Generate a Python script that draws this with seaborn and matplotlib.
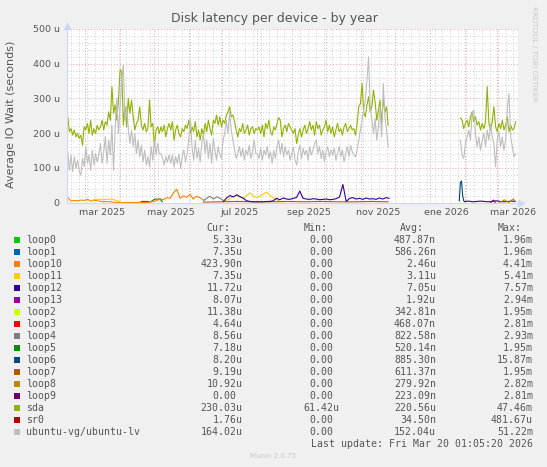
import numpy as np
import pandas as pd
import matplotlib
matplotlib.use('Agg')
import matplotlib.pyplot as plt
from matplotlib.patches import Rectangle
from matplotlib.ticker import MultipleLocator
import seaborn as sns

sns.set_style('white')
plt.rcParams['font.family'] = ['DejaVu Sans']

# ---- data (values in microseconds) ----
sda_a = [247, 204, 213, 194, 209, 189, 199, 185, 194, 165, 218, 209, 228, 199, 237, 194, 213, 199, 223, 209,
         218, 237, 209, 233, 223, 261, 237, 334, 257, 281, 237, 295, 382, 377, 223, 276, 218, 300, 257, 295,
         247, 209, 228, 237, 276, 223, 209, 228, 204, 213, 295, 218, 228, 161, 209, 218, 199,
         218, 204, 223, 189, 213, 228, 209, 233, 180, 209, 223, 199, 189, 213, 204, 223, 213, 237, 199, 218,
         204, 233, 189, 209, 180, 213, 194, 228, 204, 237, 213, 194, 237, 228, 252, 223, 247, 218, 237, 228,
         252, 261, 276, 247, 252, 233, 209, 189, 213, 204, 228, 199, 209, 223, 194, 213, 218, 199, 213,
         209, 218, 199, 223, 189, 228, 213, 237, 204, 194, 218, 209, 228, 245, 237, 189, 213, 223, 204, 228,
         218, 209, 199, 213, 170, 194, 213, 189, 209, 223, 199, 213, 233, 209, 223, 194, 233, 213, 223, 194,
         209, 218, 237, 204, 223, 199, 218, 189, 209, 228, 204, 213, 194, 218, 228, 204, 213, 223, 209, 213,
         194, 228, 276, 285, 343, 261, 247, 281, 305, 261, 276, 324, 290, 237, 266, 295, 228, 300, 261, 276, 223]
lv_a = [146, 93, 137, 89, 132, 98, 122, 89, 79, 127, 103, 161, 113, 137, 93, 151, 108, 141, 117, 137,
        170, 113, 146, 190, 113, 180, 137, 223, 93, 213, 300, 199, 281, 353, 396, 237, 276, 213, 170, 209,
        161, 199, 141, 180, 132, 165, 117, 151, 108, 132, 103, 161, 122, 180, 137, 170, 141,
        141, 127, 108, 132, 117, 137, 113, 137, 103, 132, 113, 141, 98, 132, 151, 117, 141, 180, 244, 161,
        122, 180, 127, 156, 117, 170, 199, 141, 180, 127, 170, 113, 185, 151, 122, 161, 137, 127, 180, 199,
        237, 199, 261, 209, 180, 151, 127, 141, 161, 132, 156, 122, 151, 137, 165, 127, 146, 180, 141,
        141, 127, 156, 122, 151, 137, 161, 127, 146, 113, 151, 127, 161, 180, 141, 170, 132, 161, 137, 151,
        122, 141, 161, 122, 108, 146, 165, 127, 156, 137, 151, 122, 161, 137, 151, 170, 180, 141, 161, 127,
        151, 117, 146, 161, 132, 151, 137, 156, 122, 141, 161, 132, 151, 117, 141, 161, 132, 165, 146, 137,
        132, 151, 180, 209, 237, 266, 295, 353, 420, 276, 237, 199, 242, 180, 218, 276, 189, 343, 247, 209, 161]
sda_b = [244, 237, 213, 228, 237, 218, 247, 261, 233, 247, 223, 233, 209, 228, 213, 233, 334, 228, 209, 233,
         276, 218, 204, 228, 213, 237, 209, 223, 247, 204, 223, 209, 213, 233]
lv_b = [180, 137, 127, 170, 189, 209, 180, 257, 266, 199, 161, 189, 151, 180, 199, 161, 209, 180, 228, 189,
        170, 103, 180, 204, 161, 189, 151, 180, 276, 314, 189, 161, 132, 141]

loop10_a = [14, 4, 6, 5, 7, 6, 9, 4, 6, 5, 3, 2, 3, 2, 1, 0, 0, 0, 0, 0, 0, 0, 0, 0, 0, 1, 3, 6, 11, 8,
            14, 12, 28, 38, 12, 19, 15, 24, 10, 18, 14, 8]
loop11_a = [4, 8, 9, 10, 8, 9, 10, 8, 5, 1]
loop11_b = [3, 6, 12, 18, 22, 15, 12, 20, 28, 18, 14, 19, 24, 30, 20, 14, 8, 3, 1]
loop4_a = [5, 12, 18, 10, 16, 12, 6]
loop5_a = [3, 9, 10, 10, 2]
loop3_a = [0, 3, 3, 3, 3, 0]
loop7_a = [1, 2, 3, 2, 2, 3, 2, 3, 2, 2, 3, 2]
loop12_a = [3, 14, 20, 16, 22, 17, 12, 5, 3, 2, 2, 2, 2, 3, 3, 5, 12, 8, 13, 10, 9, 12, 14, 33, 12, 10,
            9, 11, 10, 8, 9, 10, 8, 9, 11, 16, 52, 3, 12, 14, 10, 12, 9, 13, 10, 11, 9, 13, 10, 14, 12]
loop6_b = [4, 58, 62, 20, 4, 2]
loop12_b = [3, 4, 2, 3, 4, 3, 2, 3, 5, 3, 2, 3, 4, 3]
loop13_b = [0, 7, 0]
loop8_b = [0, 4, 8, 3, 0, 6, 10, 2]

names = ['loop0', 'loop1', 'loop10', 'loop11', 'loop12', 'loop13', 'loop2', 'loop3', 'loop4',
         'loop5', 'loop6', 'loop7', 'loop8', 'loop9', 'sda', 'sr0', 'ubuntu-vg/ubuntu-lv']
colors = ['#00CC00', '#0066B3', '#FF8000', '#FFCC00', '#330099', '#990099', '#CCFF00', '#FF0000',
          '#808080', '#008F00', '#00487D', '#B35A00', '#B38F00', '#6B006B', '#8FB300', '#B30000', '#BEBEBE']
cur = ['5.33u', '7.35u', '423.90n', '7.35u', '11.72u', '8.07u', '11.38u', '4.64u', '8.56u', '7.18u',
       '8.20u', '9.19u', '10.92u', '0.00', '230.03u', '1.76u', '164.02u']
mins = ['0.00'] * 14 + ['61.42u', '0.00', '0.00']
avgs = ['487.87n', '586.26n', '2.46u', '3.11u', '7.05u', '1.92u', '342.81n', '468.07n', '822.58n',
        '520.14n', '885.30n', '611.37n', '279.92n', '223.09n', '220.56u', '34.50n', '152.04u']
maxs = ['1.96m', '1.96m', '4.41m', '5.41m', '7.57m', '2.94m', '1.95m', '2.81m', '2.93m', '1.95m',
        '15.87m', '1.95m', '2.82m', '2.81m', '47.46m', '481.67u', '51.22m']

xtick_dates = ['2025-03-16', '2025-05-16', '2025-07-16', '2025-09-16', '2025-11-16', '2026-01-16', '2026-03-16']
xtick_labels = ['mar 2025', 'may 2025', 'jul 2025', 'sep 2025', 'nov 2025', 'ene 2026', 'mar 2026']

col = dict(zip(names, colors))

# (series name, start, end, values)
segments = [
    ('loop3', '2025-04-19', '2025-04-28', loop3_a),
    ('loop5', '2025-04-29', '2025-05-09', loop5_a),
    ('loop10', '2025-02-14', '2025-06-14', loop10_a),
    ('loop11', '2025-03-06', '2025-04-02', loop11_a),
    ('loop11', '2025-07-02', '2025-08-24', loop11_b),
    ('loop4', '2025-06-14', '2025-07-02', loop4_a),
    ('loop7', '2025-06-14', '2025-11-25', loop7_a),
    ('loop12', '2025-07-02', '2025-11-26', loop12_a),
    ('loop6', '2026-01-27', '2026-02-01', loop6_b),
    ('loop12', '2026-02-01', '2026-03-18', loop12_b),
    ('loop13', '2026-02-24', '2026-02-28', loop13_b),
    ('loop8', '2026-03-04', '2026-03-18', loop8_b),
    ('sda', '2025-02-14', '2025-11-25', sda_a),
    ('sda', '2026-01-28', '2026-03-18', sda_b),
    ('ubuntu-vg/ubuntu-lv', '2025-02-14', '2025-11-25', lv_a),
    ('ubuntu-vg/ubuntu-lv', '2026-01-28', '2026-03-18', lv_b),
]

W, H = 547, 467
TXT = '#555555'
AXC = '#CFD6F8'
end = pd.Timestamp('2026-03-20 01:05:20')
start = end - pd.Timedelta(days=400)

fig = plt.figure(figsize=(W / 100, H / 100), dpi=100, facecolor='#F0F0F0')
L, R, T, B = 66.7, 518.0, 29.0, 202.5
ax = fig.add_axes([L / W, 1 - B / H, (R - L) / W, (B - T) / H], facecolor='white')

# grid
for d in pd.date_range(start, end, freq='W-MON'):
    if d.day != 1:
        ax.axvline(d, color='#cfcfcf', lw=0.7, ls=(0, (1, 2)), zorder=0)
for d in pd.date_range(start, end, freq='MS'):
    ax.axvline(d, color='#eba0a0', lw=0.7, ls=(0, (1, 2)), zorder=0)
ax.yaxis.set_major_locator(MultipleLocator(100))
ax.yaxis.set_minor_locator(MultipleLocator(20))
ax.grid(True, which='minor', axis='y', color='#cfcfcf', lw=0.7, ls=(0, (1, 2)))
ax.grid(True, which='major', axis='y', color='#eba0a0', lw=0.7, ls=(0, (1, 2)))
ax.set_axisbelow(True)

for name, s, e, vals in segments:
    dts = pd.date_range(s, e, periods=len(vals))
    sns.lineplot(x=dts, y=vals, color=col[name], linewidth=0.8, ax=ax, legend=False)

ax.set_xlim(start, end)
ax.set_ylim(0, 500)
ax.set_xticks(pd.to_datetime(xtick_dates))
ax.set_xticklabels(xtick_labels)
ax.set_yticks([0, 100, 200, 300, 400, 500])
ax.set_yticklabels(['0', '100 u', '200 u', '300 u', '400 u', '500 u'])
ax.tick_params(axis='both', which='both', length=0, labelsize=6.8, colors=TXT)
ax.tick_params(axis='x', pad=4)
ax.tick_params(axis='y', pad=5)
ax.set_xlabel('')
ax.set_ylabel('')
for sp in ['top', 'right']:
    ax.spines[sp].set_visible(False)
for sp in ['left', 'bottom']:
    ax.spines[sp].set_color(AXC)
    ax.spines[sp].set_linewidth(0.8)
ax.plot([0], [1.02], marker='^', ms=4, color=AXC, transform=ax.transAxes, clip_on=False)
ax.plot([1.006], [0], marker='>', ms=4, color=AXC, transform=ax.transAxes, clip_on=False)


def fx(px):
    return px / W


def fy(py):
    return 1 - py / H


fig.text(fx(274), fy(22.3), 'Disk latency per device - by year', ha='center', va='baseline',
         fontsize=9, color=TXT)
fig.text(fx(11), fy(114), 'Average IO Wait (seconds)', rotation=90, ha='center', va='center',
         fontsize=8, color=TXT)
fig.text(fx(534), fy(53.5), 'RRDTOOL / TOBI OETIKER', rotation=270, ha='center', va='center',
         fontsize=5.4, color='#c8c8c8')

# legend table
mono = 'DejaVu Sans Mono'
fs = 7.1
cw = 0.602 * fs * 100 / 72
cols = [242.5, 339.5, 436.0, 533.0]
for cx, head in zip(cols, ['Cur:', 'Min:', 'Avg:', 'Max:']):
    fig.text(fx(cx - 2 * cw), fy(230.7), head, ha='right', va='baseline', family=mono, fontsize=fs, color=TXT)
for i, name in enumerate(names):
    yb = 242.7 + 12 * i
    fig.patches.append(Rectangle((fx(14), fy(yb)), 6 / W, 6 / H, transform=fig.transFigure,
                                 facecolor=colors[i], edgecolor='none'))
    fig.text(fx(26), fy(yb), name, ha='left', va='baseline', family=mono, fontsize=fs, color=TXT)
    for cx, v in zip(cols, [cur[i], mins[i], avgs[i], maxs[i]]):
        rx = cx if v[-1].isalpha() else cx - cw
        fig.text(fx(rx), fy(yb), v, ha='right', va='baseline', family=mono, fontsize=fs, color=TXT)
fig.text(fx(533), fy(242.7 + 12 * 17), 'Last update: Fri Mar 20 01:05:20 2026', ha='right', va='baseline',
         family=mono, fontsize=fs, color=TXT)
fig.text(fx(273), fy(458.5), 'Munin 2.0.75', ha='center', va='baseline', fontsize=5, color='#c8c8c8')

fig.savefig('out.png', dpi=100, facecolor=fig.get_facecolor())
